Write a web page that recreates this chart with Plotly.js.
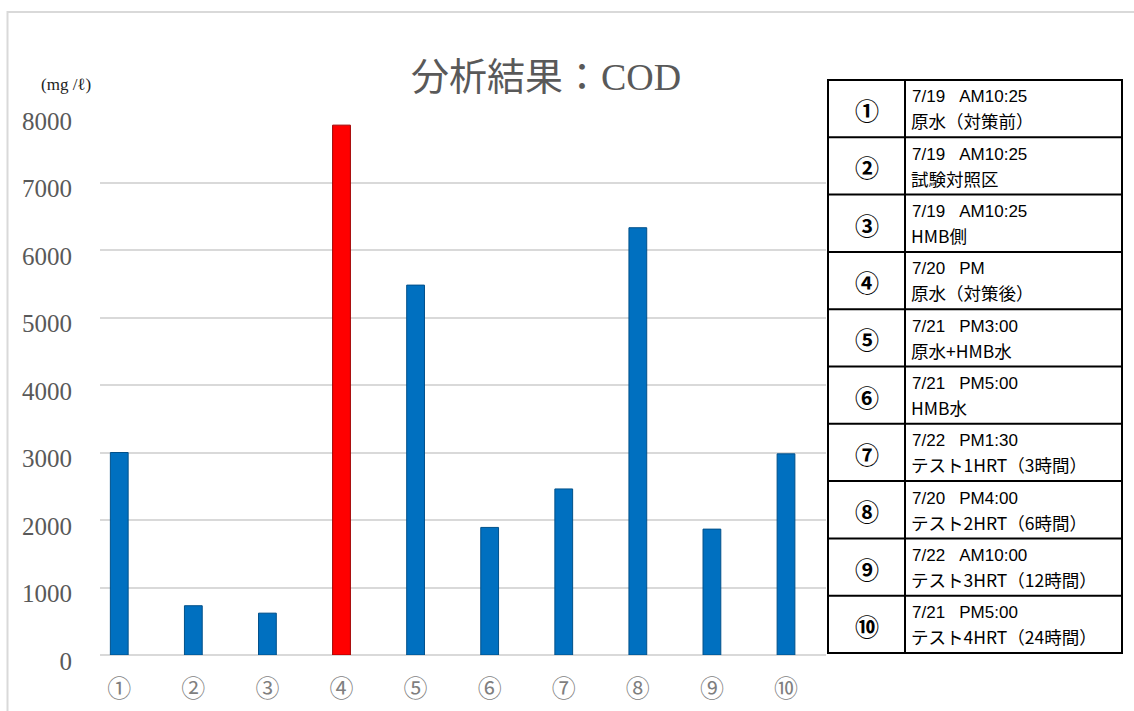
<!DOCTYPE html>
<html>
<head>
<meta charset="utf-8">
<script src="https://cdn.plot.ly/plotly-3.0.1.min.js"></script>
<style>html,body{margin:0;padding:0;background:#fff;}#chart{width:1134px;height:711px;}</style>
</head>
<body>
<div id="chart"></div>
<script>
// ---- data ----
const categories = ["①","②","③","④","⑤","⑥","⑦","⑧","⑨","⑩"];
const codValues = [3000, 730, 620, 7850, 5480, 1890, 2460, 6330, 1865, 2980];
const highlightIndex = 3;
const yTicks = [0, 1000, 2000, 3000, 4000, 5000, 6000, 7000, 8000];
const tableLabels = ["①","②","③","④","⑤","⑥","⑦","⑧","⑨","⑩"];
const tableDates = ["7/19  AM10:25","7/19  AM10:25","7/19  AM10:25","7/20  PM","7/21  PM3:00","7/21  PM5:00","7/22  PM1:30","7/20  PM4:00","7/22  AM10:00","7/21  PM5:00"];
const tableDescs = ["原水（対策前）","試験対照区","HMB側","原水（対策後）","原水+HMB水","HMB水","テスト1HRT（3時間）","テスト2HRT（6時間）","テスト3HRT（12時間）","テスト4HRT（24時間）"];

// ---- layout geometry ----
const W = 1134, H = 711;
const ML = 100, MR = 308, MT = 115, MB = 56;
const PW = W - ML - MR, PH = H - MT - MB;
const px = x => (x - ML) / PW;
const py = y => (H - MB - y) / PH;

const blue = "#0070C0", blueDark = "#00508a", red = "#FF0000", redDark = "#a00000";
const barColors = codValues.map((v, i) => i === highlightIndex ? red : blue);
const barLines = codValues.map((v, i) => i === highlightIndex ? redDark : blueDark);

const trace = {
  type: "bar",
  x: categories,
  y: codValues,
  width: 0.24,
  marker: { color: barColors, line: { color: barLines, width: 1 } },
  hoverinfo: "x+y"
};

const shapes = [];
const annotations = [];

// outer chart border
shapes.push({type:"rect", xref:"paper", yref:"paper", x0:px(7.5), x1:px(1140), y0:py(12), y1:py(720),
  line:{color:"#d9d9d9", width:2}, fillcolor:"rgba(0,0,0,0)", layer:"below"});

// table
const tX0 = 828, tX1 = 1122, tXs = 905, tY0 = 80, rowH = 57.3;
const nRows = tableLabels.length;
shapes.push({type:"rect", xref:"paper", yref:"paper", x0:px(tX0), x1:px(tX1), y0:py(tY0), y1:py(tY0 + rowH*nRows),
  line:{color:"#000", width:2}, fillcolor:"#fff"});
shapes.push({type:"line", xref:"paper", yref:"paper", x0:px(tXs), x1:px(tXs), y0:py(tY0), y1:py(tY0 + rowH*nRows),
  line:{color:"#000", width:2}});
for (let i = 1; i < nRows; i++) {
  shapes.push({type:"line", xref:"paper", yref:"paper", x0:px(tX0), x1:px(tX1), y0:py(tY0 + rowH*i), y1:py(tY0 + rowH*i),
    line:{color:"#000", width:2}});
}
const nb = s => s.replace(/  /g, "&nbsp;&nbsp;&nbsp;");
for (let i = 0; i < nRows; i++) {
  const top = tY0 + rowH*i;
  annotations.push({xref:"paper", yref:"paper", x:px((tX0+tXs)/2), y:py(top + rowH/2 + 1), text:"<b>" + tableLabels[i] + "</b>",
    showarrow:false, xanchor:"center", yanchor:"middle",
    font:{family:"Noto Sans CJK JP", size:24, color:"#000"}});
  annotations.push({xref:"paper", yref:"paper", x:px(910), y:py(top + 17), text:nb(tableDates[i]),
    showarrow:false, xanchor:"left", yanchor:"middle",
    font:{family:"Liberation Sans, Arial", size:17, color:"#000"}});
  annotations.push({xref:"paper", yref:"paper", x:px(909), y:py(top + 41), text:tableDescs[i],
    showarrow:false, xanchor:"left", yanchor:"middle",
    font:{family:"Noto Sans CJK JP", size:17.5, color:"#000"}});
}

// unit label
annotations.push({xref:"paper", yref:"paper", x:px(66), y:py(85), text:"(mg /ℓ)", showarrow:false,
  xanchor:"center", yanchor:"middle", font:{family:"Liberation Serif, DejaVu Serif", size:17, color:"#222"}});

const layout = {
  width: W, height: H,
  margin: {l: ML, r: MR, t: MT, b: MB, pad: 0},
  paper_bgcolor: "#fff", plot_bgcolor: "#fff",
  showlegend: false,
  title: {
    text: "分析結果：COD",
    x: 546 / W, xref: "container", xanchor: "center",
    y: 1 - 77 / H, yref: "container", yanchor: "middle",
    font: {family: "Liberation Serif, Noto Sans CJK JP", size: 38, color: "#595959"}
  },
  xaxis: {
    type: "category",
    range: [-0.26, 9.54],
    showgrid: false, zeroline: false, showline: false,
    ticks: "",
    ticklabelstandoff: 17,
    tickfont: {family: "Noto Sans CJK JP", size: 24, color: "#7f7f7f"}
  },
  yaxis: {
    range: [0, 8000],
    tickvals: yTicks,
    ticktext: yTicks.map(String),
    showgrid: true, gridcolor: "#d9d9d9", gridwidth: 2,
    zeroline: true, zerolinecolor: "#d9d9d9", zerolinewidth: 2,
    showline: false, ticks: "",
    ticklabelstandoff: 27,
    ticklabelshift: 6,
    tickfont: {family: "Liberation Serif, DejaVu Serif", size: 25, color: "#595959"}
  },
  shapes: shapes,
  annotations: annotations,
  bargap: 0.76
};

Plotly.newPlot("chart", [trace], layout, {displayModeBar: false, responsive: false});
</script>
</body>
</html>
